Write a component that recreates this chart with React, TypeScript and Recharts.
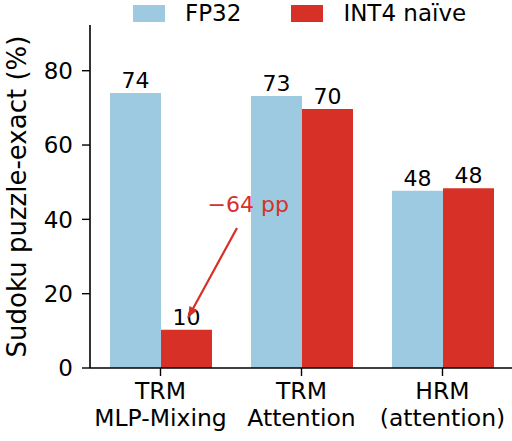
import { Bar, BarChart, LabelList, XAxis, YAxis } from "recharts";

if (typeof document !== "undefined") {
  document.body.style.margin = "0";
}

const CATEGORY_LINES = [
  ["TRM", "MLP-Mixing"],
  ["TRM", "Attention"],
  ["HRM", "(attention)"],
];
const FP32 = [74.0, 73.2, 47.7];
const INT4 = [10.3, 69.7, 48.4];
const Y_TICKS = [0, 20, 40, 60, 80];
const Y_MAX = 92.3;

const SERIES = [
  { key: "fp32", label: "FP32", color: "#9ecae1" },
  { key: "int4", label: "INT4 na\u00efve", color: "#d73027" },
];
const RED = "#d73027";
const FONT = "DejaVu Sans, sans-serif";

// drop annotation, tied to the INT4 bar of the first group
const DROP_TEXT = "\u221264 pp";
const DROP_TEXT_VALUE = 43.9;
const DROP_TAIL_VALUE = 37.7;
const DROP_TIP_VALUE = 13.5;

const data = CATEGORY_LINES.map((lines, i) => ({
  name: lines.join("\n"),
  fp32: FP32[i],
  int4: INT4[i],
}));

function ValueLabel(props: any) {
  const { x, y, width, value } = props;
  return (
    <text
      x={x + width / 2}
      y={y - 5}
      textAnchor="middle"
      fontSize={22}
      fontFamily={FONT}
      fill="#000"
    >
      {Math.round(value)}
    </text>
  );
}

function DropAnnotation(props: any) {
  const { x, y, width, height, value, index } = props;
  if (index !== 0) return null;
  const base = y + height;
  const perUnit = height / value;
  const cx = x + width / 2;
  const textY = base - DROP_TEXT_VALUE * perUnit;
  const tx = cx + width * 0.99;
  const ty = base - DROP_TAIL_VALUE * perUnit;
  const hx = cx + width * 0.03;
  const hy = base - DROP_TIP_VALUE * perUnit;
  const ang = Math.atan2(hy - ty, hx - tx);
  const len = 12;
  const spread = 0.38;
  const p1 = [hx - len * Math.cos(ang - spread), hy - len * Math.sin(ang - spread)];
  const p2 = [hx - len * Math.cos(ang + spread), hy - len * Math.sin(ang + spread)];
  return (
    <g>
      <text
        x={cx + width * 1.21}
        y={textY}
        textAnchor="middle"
        dominantBaseline="central"
        fontSize={22}
        fontFamily={FONT}
        fill={RED}
      >
        {DROP_TEXT}
      </text>
      <line x1={tx} y1={ty} x2={hx} y2={hy} stroke={RED} strokeWidth={2.2} />
      <polygon
        points={`${hx},${hy} ${p1[0]},${p1[1]} ${p2[0]},${p2[1]}`}
        fill={RED}
      />
    </g>
  );
}

function CategoryTick(props: any) {
  const { x, y, payload } = props;
  const lines = String(payload.value).split("\n");
  return (
    <text
      x={x}
      y={y}
      textAnchor="middle"
      fontSize={23.5}
      fontFamily={FONT}
      fill="#000"
    >
      {lines.map((line, i) => (
        <tspan key={i} x={x} dy={i === 0 ? 21 : 27}>
          {line}
        </tspan>
      ))}
    </text>
  );
}

function LegendBox() {
  return (
    <div
      style={{
        position: "absolute",
        top: 0,
        left: 133,
        display: "flex",
        fontFamily: FONT,
        fontSize: 23,
        lineHeight: "27px",
      }}
    >
      {SERIES.map((s, i) => (
        <div
          key={s.key}
          style={{
            display: "flex",
            alignItems: "center",
            marginRight: i === 0 ? 50 : 0,
          }}
        >
          <span
            style={{
              width: 32,
              height: 17,
              background: s.color,
              display: "inline-block",
              marginRight: 20,
            }}
          />
          <span>{s.label}</span>
        </div>
      ))}
    </div>
  );
}

export default function App() {
  return (
    <div style={{ position: "relative", width: 512, height: 441 }}>
      <BarChart
        width={512}
        height={441}
        data={data}
        margin={{ top: 25, right: -1, bottom: 13, left: 0 }}
        barGap={0}
      >
        <XAxis
          dataKey="name"
          interval={0}
          height={60}
          tick={<CategoryTick />}
          tickSize={8}
          axisLine={{ stroke: "#000", strokeWidth: 1.6 }}
          tickLine={{ stroke: "#000", strokeWidth: 1.4 }}
        />
        <YAxis
          width={90}
          domain={[0, Y_MAX]}
          ticks={Y_TICKS}
          allowDataOverflow
          tickSize={8}
          tickMargin={9}
          tick={{ fontSize: 23, fontFamily: FONT, fill: "#000" }}
          axisLine={{ stroke: "#000", strokeWidth: 1.6 }}
          tickLine={{ stroke: "#000", strokeWidth: 1.4 }}
          label={{
            value: "Sudoku puzzle-exact (%)",
            angle: -90,
            position: "insideLeft",
            dx: 12,
            style: {
              fontSize: 26,
              fontFamily: FONT,
              fill: "#000",
              textAnchor: "middle",
            },
          }}
        />
        {SERIES.map((s) => (
          <Bar
            key={s.key}
            dataKey={s.key}
            fill={s.color}
            barSize={51}
            isAnimationActive={false}
          >
            <LabelList dataKey={s.key} content={<ValueLabel />} />
            {s.key === "int4" && (
              <LabelList dataKey={s.key} content={<DropAnnotation />} />
            )}
          </Bar>
        ))}
      </BarChart>
      <LegendBox />
    </div>
  );
}
